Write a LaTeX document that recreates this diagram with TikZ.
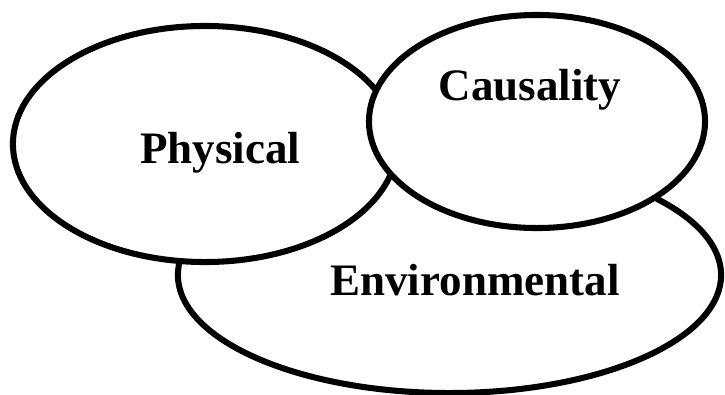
\documentclass[tikz,border=0pt]{standalone}
\usepackage{fontspec}
\setmainfont{Liberation Serif}
\usepackage{tikz}
\usetikzlibrary{shapes.geometric}
\tikzset{
zone/.style={ellipse, draw, fill=white, line width=4.3pt, inner sep=0pt}, % the three overlapping ovals
zonetext/.style={anchor=base, font=\fontsize{32}{38}\selectfont\bfseries}, % labels inside the ovals
}
\begin{document}
\begin{tikzpicture}[x=0.025cm, y=-0.025cm]
                \useasboundingbox (0,0) rectangle (725,395);
                \node[zone, minimum width=13.575cm, minimum height=5.9cm] (env) at (449.5,275) {};
                \node[zone, minimum width=9.6cm, minimum height=5.9cm] (phys) at (205,144) {};
                \node[zone, minimum width=8.4cm, minimum height=5.325cm] (caus) at (537,121.5) {};
                \node[zonetext] (physlbl) at ([shift={(15,19)}]phys.center) {Physical};
                \node[zonetext] (causlbl) at ([shift={(-7,-21.5)}]caus.center) {Causality};
                \node[zonetext] (envlbl) at ([shift={(25.5,20)}]env.center) {Environmental};
                \end{tikzpicture}
\end{document}
